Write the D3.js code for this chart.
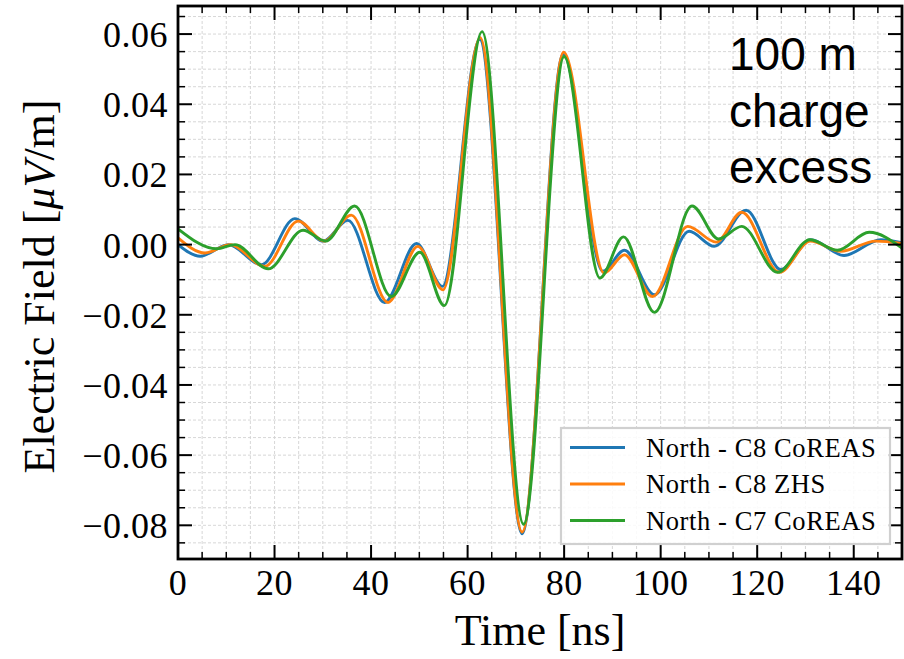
<!DOCTYPE html>
<html>
<head>
<meta charset="utf-8">
<script src="https://cdnjs.cloudflare.com/ajax/libs/d3/7.8.5/d3.min.js"></script>
<style>
body { margin: 0; background: #fff; }
.ticklabel { font-family: "Liberation Serif", "Times New Roman", serif; font-size: 36px; fill: #000; letter-spacing: 0.5px; }
.axislabel { font-family: "Liberation Serif", "Times New Roman", serif; font-size: 44px; fill: #000; }
.legendtext { font-family: "Liberation Serif", "Times New Roman", serif; font-size: 26.5px; fill: #000; letter-spacing: 0.6px; }
.note { font-family: "Liberation Sans", Arial, sans-serif; font-size: 46px; fill: #000; }
.grid { stroke: #d2d2d2; stroke-width: 0.9; stroke-dasharray: 3,2; fill: none; }
</style>
</head>
<body>
<div id="chart"></div>
<script>
// series (time in ns, field in uV/m)
var seriesNames = ["North - C8 CoREAS", "North - C8 ZHS", "North - C7 CoREAS"];
var seriesColors = ["#1f77b4", "#ff7f0e", "#2ca02c"];

var c8CoreasT = [0, 4.6, 10.4, 17.3, 24.2, 30.1, 35.2, 42.8, 49.4, 54.8, 62.5, 71.3, 79.8, 88.0, 92.5, 98.7, 105.9, 111.1, 117.7, 124.9, 131.1, 138.0, 145.6, 150];
var c8CoreasV = [0.0000, -0.0033, 0.0000, -0.0057, 0.0074, 0.0010, 0.0069, -0.0165, 0.0003, -0.0119, 0.0585, -0.0824, 0.0543, -0.0076, -0.0016, -0.0143, 0.0038, -0.0005, 0.0098, -0.0071, 0.0014, -0.0031, 0.0014, 0.0005];

var c8ZhsT = [0, 5.6, 10.8, 18.0, 24.9, 30.3, 35.9, 43.5, 49.7, 54.9, 62.6, 71.3, 79.9, 88.3, 92.5, 98.3, 105.6, 111.5, 116.8, 124.6, 131.0, 137.3, 144.6, 150];
var c8ZhsV = [0.0019, -0.0024, 0.0000, -0.0062, 0.0067, 0.0010, 0.0084, -0.0165, -0.0005, -0.0129, 0.0590, -0.0819, 0.0548, -0.0081, -0.0029, -0.0148, 0.0052, 0.0007, 0.0092, -0.0079, 0.0010, -0.0019, 0.0010, 0.0003];

var c7CoreasT = [0, 8.0, 11.8, 18.7, 25.9, 30.6, 36.6, 44.2, 50.1, 55.2, 63.0, 71.6, 80.0, 87.4, 92.3, 98.7, 106.5, 112.0, 116.8, 124.2, 130.9, 136.6, 143.2, 150];
var c7CoreasV = [0.0045, -0.0012, 0.0000, -0.0069, 0.0041, 0.0010, 0.0110, -0.0148, -0.0022, -0.0174, 0.0607, -0.0797, 0.0536, -0.0095, 0.0022, -0.0193, 0.0110, 0.0016, 0.0052, -0.0079, 0.0014, -0.0016, 0.0035, -0.0010];

var xTicks = [0, 20, 40, 60, 80, 100, 120, 140];
var yTicks = [-0.08, -0.06, -0.04, -0.02, 0.00, 0.02, 0.04, 0.06];
var noteLines = ["100 m", "charge", "excess"];

var svgWidth = 904, svgHeight = 659;
var margin = {left: 178, top: 6, right: 2, bottom: 100};
var width = svgWidth - margin.left - margin.right;
var height = svgHeight - margin.top - margin.bottom;

var svg = d3.select("#chart").append("svg")
    .attr("width", svgWidth)
    .attr("height", svgHeight);

var x = d3.scaleLinear().domain([0, 150]).range([0, width]);
var y = d3.scaleLinear().domain([-0.0896, 0.0680]).range([height, 0]);

var g = svg.append("g")
    .attr("transform", "translate(" + margin.left + "," + margin.top + ")");

// grid on every minor tick
var xMinor = d3.range(0, 151, 5);
var yMinor = d3.range(-0.085, 0.0681, 0.005);

g.selectAll(".gx").data(xMinor.filter(function(d) { return d > 0 && d < 150; })).enter().append("line")
    .attr("class", "grid")
    .attr("x1", function(d) { return x(d); })
    .attr("x2", function(d) { return x(d); })
    .attr("y1", 0)
    .attr("y2", height);

g.selectAll(".gy").data(yMinor).enter().append("line")
    .attr("class", "grid")
    .attr("x1", 0)
    .attr("x2", width)
    .attr("y1", function(d) { return y(d); })
    .attr("y2", function(d) { return y(d); });

svg.append("clipPath").attr("id", "plotclip")
    .append("rect").attr("width", width).attr("height", height);

// lines
var allSeries = [
    d3.zip(c8CoreasT, c8CoreasV),
    d3.zip(c8ZhsT, c8ZhsV),
    d3.zip(c7CoreasT, c7CoreasV)
];

var line = d3.line()
    .x(function(d) { return x(d[0]); })
    .y(function(d) { return y(d[1]); })
    .curve(d3.curveMonotoneX);

g.append("g").attr("clip-path", "url(#plotclip)")
    .selectAll("path").data(allSeries).enter().append("path")
    .attr("d", line)
    .attr("fill", "none")
    .attr("stroke", function(d, i) { return seriesColors[i]; })
    .attr("stroke-width", 2.9)
    .attr("stroke-linejoin", "round");

// ticks, inward on all four sides
var xMinorTicks = xMinor.filter(function(d) { return d % 20 !== 0; });
var yMinorTicks = yMinor.filter(function(d) { return Math.abs(Math.round(d * 50) - d * 50) > 1e-6; });

function drawTicks(vals, len, w) {
    vals.forEach(function(d) {
        var px = x(d);
        g.append("line").attr("x1", px).attr("x2", px).attr("y1", height).attr("y2", height - len)
            .attr("stroke", "#000").attr("stroke-width", w);
        g.append("line").attr("x1", px).attr("x2", px).attr("y1", 0).attr("y2", len)
            .attr("stroke", "#000").attr("stroke-width", w);
    });
}
function drawYTicks(vals, len, w) {
    vals.forEach(function(d) {
        var py = y(d);
        g.append("line").attr("x1", 0).attr("x2", len).attr("y1", py).attr("y2", py)
            .attr("stroke", "#000").attr("stroke-width", w);
        g.append("line").attr("x1", width).attr("x2", width - len).attr("y1", py).attr("y2", py)
            .attr("stroke", "#000").attr("stroke-width", w);
    });
}
drawTicks(xTicks, 14, 2);
drawTicks(xMinorTicks, 7, 1.5);
drawYTicks(yTicks, 14, 2);
drawYTicks(yMinorTicks, 7, 1.5);

// frame
g.append("rect")
    .attr("x", 0).attr("y", 0)
    .attr("width", width).attr("height", height)
    .attr("fill", "none")
    .attr("stroke", "#000")
    .attr("stroke-width", 2.8);

// tick labels
var fmt = d3.format(".2f");
g.selectAll(".xl").data(xTicks).enter().append("text")
    .attr("class", "ticklabel")
    .attr("x", function(d) { return x(d); })
    .attr("y", height + 36)
    .attr("text-anchor", "middle")
    .text(function(d) { return d; });

g.selectAll(".yl").data(yTicks).enter().append("text")
    .attr("class", "ticklabel")
    .attr("x", -10)
    .attr("y", function(d) { return y(d) + 13; })
    .attr("text-anchor", "end")
    .text(function(d) { return fmt(d); });

// axis labels
svg.append("text")
    .attr("class", "axislabel")
    .attr("x", margin.left + width / 2)
    .attr("y", 645)
    .attr("text-anchor", "middle")
    .text("Time [ns]");

var yl = svg.append("text")
    .attr("class", "axislabel")
    .attr("transform", "translate(54," + (margin.top + height / 2 + 4) + ") rotate(-90)")
    .attr("text-anchor", "middle");
yl.append("tspan").text("Electric Field [");
yl.append("tspan").attr("font-style", "italic").text("μ");
yl.append("tspan").attr("font-style", "italic").text("V");
yl.append("tspan").text("/m]");

// note
svg.selectAll(".note").data(noteLines).enter().append("text")
    .attr("class", "note")
    .attr("x", 729)
    .attr("y", function(d, i) { return 70 + i * 56.5; })
    .text(function(d) { return d; });

// legend
var legend = svg.append("g").attr("transform", "translate(561,428)");
legend.append("rect")
    .attr("width", 329).attr("height", 116)
    .attr("fill", "#fff").attr("fill-opacity", 0.85)
    .attr("stroke", "#d0d0d0").attr("stroke-width", 2.2);

seriesNames.forEach(function(name, i) {
    var ly = 19.5 + i * 36.5;
    legend.append("line")
        .attr("x1", 9).attr("x2", 64)
        .attr("y1", ly).attr("y2", ly)
        .attr("stroke", seriesColors[i]).attr("stroke-width", 2.9);
    legend.append("text")
        .attr("class", "legendtext")
        .attr("x", 85).attr("y", ly + 9)
        .text(name);
});
</script>
</body>
</html>
